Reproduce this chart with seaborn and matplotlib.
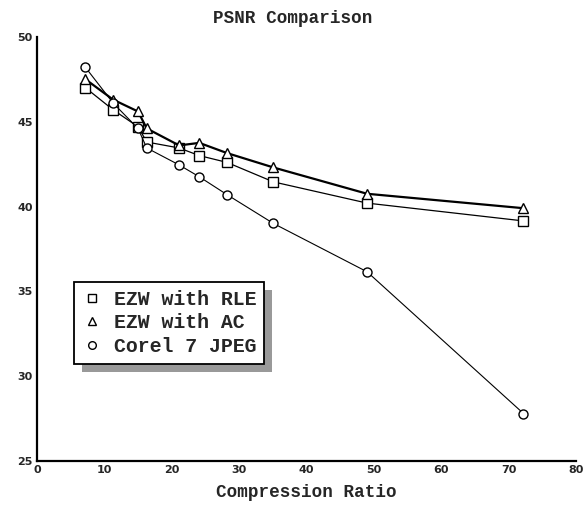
import matplotlib
matplotlib.use("Agg")
import matplotlib.pyplot as plt
from matplotlib.lines import Line2D
from matplotlib.patches import Rectangle
from matplotlib.transforms import IdentityTransform
import seaborn as sns
import pandas as pd

ratio = [7.2, 11.3, 15.0, 16.3, 21.1, 24.1, 28.2, 35.1, 49.0, 72.2]
psnr_rle = [47.0, 45.7, 44.7, 43.8, 43.45, 43.0, 42.6, 41.45, 40.2, 39.15]
psnr_ac = [47.5, 46.3, 45.6, 44.6, 43.6, 43.75, 43.15, 42.3, 40.75, 39.9]
psnr_jpeg = [48.2, 46.1, 44.6, 43.45, 42.45, 41.75, 40.7, 39.0, 36.15, 27.8]
series_names = ["EZW with RLE", "EZW with AC", "Corel 7 JPEG"]
xticks = [0, 10, 20, 30, 40, 50, 60, 70, 80]
yticks = [25, 30, 35, 40, 45, 50]

sns.set_style("white")
plt.rcParams['font.family'] = ['DejaVu Sans']

fig = plt.figure(figsize=(5.86, 5.08), dpi=100)
ax = fig.add_axes([0.063, 0.0925, 0.920, 0.835])

markers = ["s", "^", "o"]
widths = [0.9, 1.6, 0.8]
for name, ys, m, lw in zip(series_names, [psnr_rle, psnr_ac, psnr_jpeg], markers, widths):
    df = pd.DataFrame({"x": ratio, "y": ys})
    sns.lineplot(data=df, x="x", y="y", ax=ax, color="black", linewidth=lw,
                 marker=m, markersize=6.5, markerfacecolor="white",
                 markeredgecolor="black", markeredgewidth=1.0, legend=False)

ax.set_xlim(0, 80)
ax.set_ylim(25, 50)
ax.set_xticks(xticks)
ax.set_yticks(yticks)
ax.tick_params(direction="in", length=3, width=1.2, labelsize=8, pad=3)
for lab in ax.get_xticklabels() + ax.get_yticklabels():
    lab.set_fontweight("bold")
for s in ["top", "right"]:
    ax.spines[s].set_visible(False)
for s in ["left", "bottom"]:
    ax.spines[s].set_linewidth(1.6)
    ax.spines[s].set_color("black")

ax.set_xlabel("Compression Ratio", family="Liberation Mono", fontsize=12.7,
              fontweight="bold", labelpad=6)
ax.set_ylabel("")
fig.suptitle("PSNR Comparison", family="Liberation Mono", fontsize=12.7,
             fontweight="bold", y=0.98)

handles = [Line2D([], [], linestyle="none", marker=m, markersize=5.5,
                  markerfacecolor="white", markeredgecolor="black",
                  markeredgewidth=1.0)
           for m in markers]
leg = ax.legend(handles, series_names, loc="upper left",
                bbox_to_anchor=(0.0685, 0.422), frameon=True, fancybox=False,
                edgecolor="black", framealpha=1.0,
                prop={"family": "Liberation Mono", "size": 14.3, "weight": "bold"},
                handletextpad=0.6, labelspacing=0.22, borderpad=0.4,
                handlelength=1.0, borderaxespad=0)
leg.get_frame().set_linewidth(1.3)
leg.set_zorder(6)

fig.canvas.draw()
bb = leg.get_window_extent()
shadow = Rectangle((bb.x0 + 8, bb.y0 - 8), bb.width, bb.height,
                   transform=IdentityTransform(), facecolor="#999999",
                   edgecolor="none", zorder=5, clip_on=False)
ax.add_artist(shadow)

fig.savefig("out.png", dpi=100)
